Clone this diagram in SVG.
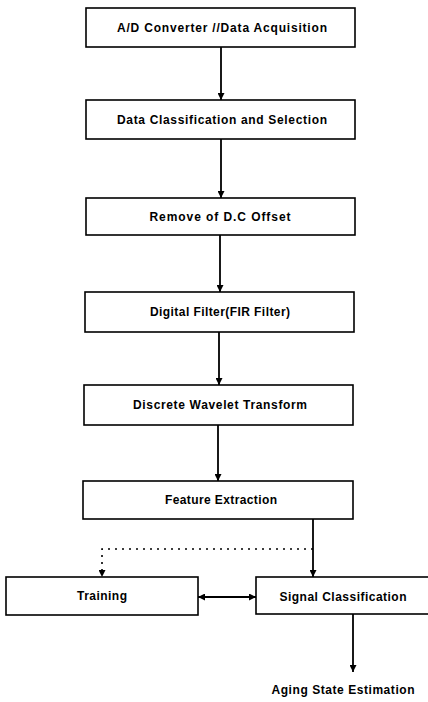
<svg xmlns="http://www.w3.org/2000/svg" width="428" height="702" viewBox="0 0 428 702">
<defs>
<marker id="ah" viewBox="0 0 10 10" refX="10" refY="5" markerWidth="7" markerHeight="7" markerUnits="userSpaceOnUse" orient="auto-start-reverse">
<path d="M0,0 L10,5 L0,10 z" fill="#000"/>
</marker>
<style>
.box{fill:#fff;stroke:#000;stroke-width:1.6}
.t{font-family:"Liberation Sans",Arial,sans-serif;font-weight:bold;font-size:12px;fill:#000;text-anchor:middle}
.c{fill:none;stroke:#000;stroke-width:1.8}
.d{fill:none;stroke:#000;stroke-width:1.6;stroke-dasharray:2 5}
</style>
</defs>
<rect width="428" height="702" fill="#fff"/>
<g id="n1"><rect class="box" x="86" y="8" width="269" height="39"/><text class="t" x="222" y="32" textLength="210" lengthAdjust="spacing">A/D Converter //Data Acquisition</text></g>
<g id="n2"><rect class="box" x="86" y="100" width="269" height="39"/><text class="t" x="222" y="124" textLength="210" lengthAdjust="spacing">Data Classification and Selection</text></g>
<g id="n3"><rect class="box" x="86" y="198" width="269" height="37"/><text class="t" x="220" y="221" textLength="141" lengthAdjust="spacing">Remove of D.C Offset</text></g>
<g id="n4"><rect class="box" x="85" y="292" width="269" height="40"/><text class="t" x="220" y="316" textLength="140" lengthAdjust="spacing">Digital Filter(FIR Filter)</text></g>
<g id="n5"><rect class="box" x="84" y="385" width="269" height="40"/><text class="t" x="220" y="409" textLength="174" lengthAdjust="spacing">Discrete Wavelet Transform</text></g>
<g id="n6"><rect class="box" x="83" y="481" width="270" height="38"/><text class="t" x="221" y="504" textLength="112" lengthAdjust="spacing">Feature Extraction</text></g>
<g id="n7"><rect class="box" x="6" y="577" width="192" height="38"/><text class="t" x="102" y="600" textLength="50" lengthAdjust="spacing">Training</text></g>
<g id="n8"><rect class="box" x="256" y="577" width="176" height="37"/><text class="t" x="343" y="601" textLength="127" lengthAdjust="spacing">Signal Classification</text></g>
<g id="n9"><text class="t" x="343" y="694" textLength="143" lengthAdjust="spacing">Aging State Estimation</text></g>
<g id="connectors">
<line class="c" x1="221" y1="47" x2="221" y2="100" marker-end="url(#ah)"/>
<line class="c" x1="221" y1="139" x2="221" y2="198" marker-end="url(#ah)"/>
<line class="c" x1="220" y1="235" x2="220" y2="292" marker-end="url(#ah)"/>
<line class="c" x1="219" y1="332" x2="219" y2="385" marker-end="url(#ah)"/>
<line class="c" x1="218" y1="425" x2="218" y2="481" marker-end="url(#ah)"/>
<line class="c" x1="313" y1="519" x2="313" y2="577" marker-end="url(#ah)"/>
<polyline class="d" points="313,549 102,549 102,570"/>
<line class="c" x1="102" y1="569" x2="102" y2="577" marker-end="url(#ah)" style="stroke-width:0"/>
<line class="c" x1="198" y1="597" x2="256" y2="597" marker-start="url(#ah)" marker-end="url(#ah)"/>
<line class="c" x1="353" y1="614" x2="353" y2="672" marker-end="url(#ah)"/>
</g>
</svg>
